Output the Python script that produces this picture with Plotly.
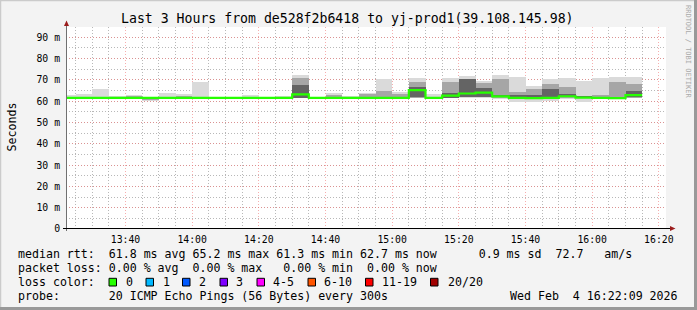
import plotly.graph_objects as go
from datetime import datetime, timedelta

# ---------------- data (ms) ----------------
bin_start = datetime(2026, 2, 4, 13, 20, 0)   # 5-minute bins
view_start = datetime(2026, 2, 4, 13, 22, 9)
view_end = datetime(2026, 2, 4, 16, 22, 9)

smoke_hi = [62.8, 63.2, 65.6, 62.4, 62.9, 61.6, 63.8, 63.3, 69.0, 61.7,
            61.7, 62.7, 61.7, 62.4, 72.5, 61.7, 63.9, 62.6, 64.0, 70.3,
            64.1, 70.7, 63.3, 70.7, 71.6, 69.3, 72.4, 71.2, 67.0, 70.4,
            70.7, 69.3, 70.7, 71.2, 71.2]
smoke_lo = [61.3, 61.3, 61.3, 61.3, 61.3, 60.0, 61.3, 61.3, 61.3, 61.3,
            61.3, 61.3, 61.3, 61.3, 61.4, 61.3, 61.3, 61.3, 61.3, 61.3,
            61.3, 61.4, 61.3, 61.3, 61.6, 61.6, 61.2, 59.8, 59.8, 60.2,
            61.2, 59.4, 61.0, 61.2, 61.3]
mid_hi = [61.5, 61.5, 61.5, 61.5, 62.6, 61.5, 61.5, 62.6, 62.0, 61.5,
          61.5, 61.5, 61.5, 61.5, 70.8, 61.5, 63.0, 61.5, 63.3, 65.0,
          63.2, 68.8, 61.5, 69.2, 70.6, 68.5, 70.4, 64.4, 65.7, 68.0,
          66.5, 62.5, 63.0, 68.8, 68.0]
mid_lo = [61.5, 61.5, 61.5, 61.5, 61.4, 60.8, 61.5, 61.4, 61.4, 61.5,
          61.5, 61.5, 61.5, 61.5, 61.5, 61.5, 61.4, 61.5, 61.4, 61.4,
          61.4, 61.6, 61.5, 61.5, 61.8, 61.8, 61.5, 60.8, 60.8, 60.9,
          61.5, 61.3, 61.3, 61.3, 61.5]
core_hi = [61.5, 61.5, 61.5, 61.5, 61.5, 61.5, 61.5, 61.5, 61.5, 61.5,
           61.5, 61.5, 61.5, 61.5, 67.5, 61.5, 61.5, 61.5, 61.5, 61.5,
           61.5, 66.5, 61.5, 64.0, 70.2, 66.0, 63.0, 62.8, 63.0, 65.7,
           63.5, 62.3, 62.0, 61.5, 65.0]
core_lo = [61.5, 61.5, 61.5, 61.5, 61.5, 61.5, 61.5, 61.5, 61.5, 61.5,
           61.5, 61.5, 61.5, 61.5, 61.6, 61.5, 61.5, 61.5, 61.5, 61.5,
           61.5, 61.8, 61.5, 61.6, 61.9, 62.0, 61.8, 61.3, 61.2, 61.3,
           61.8, 61.5, 61.4, 61.5, 61.8]
median_rtt = [61.5, 61.5, 61.5, 61.5, 61.5, 61.5, 61.5, 61.5, 61.5, 61.5,
              61.5, 61.5, 61.5, 61.5, 63.2, 61.5, 61.5, 61.5, 61.5, 61.5,
              61.5, 65.2, 61.5, 62.6, 63.6, 64.0, 62.2, 61.5, 61.4, 61.5,
              62.3, 61.7, 61.5, 61.4, 62.8]

y_tick_vals = [0, 10, 20, 30, 40, 50, 60, 70, 80, 90]
y_tick_text = ["0", "10 m", "20 m", "30 m", "40 m", "50 m", "60 m", "70 m", "80 m", "90 m"]

loss_labels = ["0", "1", "2", "3", "4-5", "6-10", "11-19", "20/20"]
loss_colors = ["#26ff00", "#00b8ff", "#0059ff", "#7e00ff", "#ff00ff", "#ff5500", "#ff0000", "#a10000"]

title_text = "Last 3 Hours from de528f2b6418 to yj-prod1(39.108.145.98)"
# legend texts as (column, token) pairs in a monospace grid
median_tokens = [(0, "median rtt:"), (13, "61.8"), (18, "ms"), (21, "avg"), (25, "65.2"), (30, "ms"),
                 (33, "max"), (37, "61.3"), (42, "ms"), (45, "min"), (49, "62.7"), (54, "ms"),
                 (57, "now"), (66, "0.9"), (70, "ms"), (73, "sd"), (77, "72.7"), (84, "am/s")]
loss_tokens = [(0, "packet loss:"), (13, "0.00"), (18, "%"), (20, "avg"), (25, "0.00"), (30, "%"),
               (32, "max"), (38, "0.00"), (43, "%"), (45, "min"), (50, "0.00"), (55, "%"), (57, "now")]
probe_tokens = [(0, "probe:"), (13, "20 ICMP Echo Pings (56 Bytes) every 300s")]
date_text = "Wed Feb  4 16:22:09 2026"

# ---------------- geometry helpers ----------------
W, H = 697, 310
L, R, T, B = 66, 31, 27, 81
PW, PH = W - L - R, H - T - B
MONO = "DejaVu Sans Mono"


def px(x):
    return (x - L) / PW


def py(y):
    return (H - B - y) / PH


def nb(s):
    return s.replace(" ", "\u00a0")


def build(tokens):
    s = ""
    for col, tok in tokens:
        s = s.ljust(col) + tok
    return nb(s)


starts = [bin_start + timedelta(minutes=5 * i) for i in range(len(median_rtt))]
centers = [s + timedelta(minutes=2.5) for s in starts]

fig = go.Figure()


def band(lo, hi, color):
    fig.add_trace(go.Bar(
        x=centers, base=lo, y=[h - l for h, l in zip(hi, lo)], width=300000,
        marker=dict(color=color, line=dict(width=0)),
        hoverinfo="skip", showlegend=False))


band(smoke_lo, smoke_hi, "#dadada")
band(mid_lo, mid_hi, "#a6a6a6")
band(core_lo, core_hi, "#646464")

fig.add_trace(go.Scatter(
    x=starts + [starts[-1] + timedelta(minutes=5)],
    y=median_rtt + [median_rtt[-1]],
    mode="lines", line=dict(color="#26ff00", width=2.2, shape="hv"),
    hoverinfo="skip", showlegend=False))

shapes = []
ann = []

# frame
shapes.append(dict(type="line", xref="paper", yref="paper", x0=px(0), x1=px(W), y0=py(0.5), y1=py(0.5),
                   line=dict(color="#cbcbcb", width=1.5), layer="above"))
shapes.append(dict(type="line", xref="paper", yref="paper", x0=px(0.5), x1=px(0.5), y0=py(0), y1=py(H),
                   line=dict(color="#cbcbcb", width=1.5), layer="above"))
shapes.append(dict(type="line", xref="paper", yref="paper", x0=px(0), x1=px(W), y0=py(H - 1.5), y1=py(H - 1.5),
                   line=dict(color="#999999", width=3), layer="above"))
shapes.append(dict(type="line", xref="paper", yref="paper", x0=px(W - 1.5), x1=px(W - 1.5), y0=py(0), y1=py(H),
                   line=dict(color="#999999", width=3), layer="above"))

# axes
shapes.append(dict(type="line", xref="paper", yref="paper", x0=px(66.5), x1=px(66.5), y0=py(231), y1=py(24),
                   line=dict(color="#707070", width=1), layer="above"))
shapes.append(dict(type="line", xref="paper", yref="paper", x0=px(63), x1=px(671), y0=py(228.5), y1=py(228.5),
                   line=dict(color="#000000", width=1), layer="above"))
shapes.append(dict(type="path", xref="paper", yref="paper",
                   path="M %f,%f L %f,%f L %f,%f Z" % (px(64), py(26), px(69), py(26), px(66.5), py(20.5)),
                   fillcolor="#9b1c1c", line=dict(width=0), layer="above"))
shapes.append(dict(type="path", xref="paper", yref="paper",
                   path="M %f,%f L %f,%f L %f,%f Z" % (px(670), py(226), px(670), py(231), px(675.5), py(228.5)),
                   fillcolor="#9b1c1c", line=dict(width=0), layer="above"))

# title / axis title / watermark
ann.append(dict(text=title_text, x=px(347), y=py(19), xref="paper", yref="paper",
                showarrow=False, xanchor="center", yanchor="middle",
                font=dict(family=MONO, size=13.2, color="#000000")))
ann.append(dict(text="Seconds", x=px(11), y=py(127.5), xref="paper", yref="paper",
                showarrow=False, xanchor="center", yanchor="middle", textangle=-90,
                font=dict(family=MONO, size=11.6, color="#000000")))
ann.append(dict(text=nb("RRDTOOL / TOBI OETIKER"), x=px(688), y=py(52), xref="paper", yref="paper",
                showarrow=False, xanchor="center", yanchor="middle", textangle=90,
                font=dict(family=MONO, size=7, color="#aaaaaa")))

# legend rows
rows = [(build(median_tokens), 254.3), (build(loss_tokens), 268.3),
        (nb("loss color:"), 282.3), (build(probe_tokens), 296.3)]
for txt, yy in rows:
    ann.append(dict(text=txt, x=px(16), y=py(yy), xref="paper", yref="paper",
                    showarrow=False, xanchor="left", yanchor="middle",
                    font=dict(family=MONO, size=11.6, color="#000000")))
ann.append(dict(text=nb(date_text), x=px(680), y=py(296.3), xref="paper", yref="paper",
                showarrow=False, xanchor="right", yanchor="middle",
                font=dict(family=MONO, size=11.6, color="#000000")))

sq_x = [109, 146, 182.5, 220, 257, 308, 365.5, 430.5]
lab_x = [124.4, 161, 197, 234, 271, 322, 380, 445.8]
for i, (lab, col) in enumerate(zip(loss_labels, loss_colors)):
    shapes.append(dict(type="rect", xref="paper", yref="paper",
                       x0=px(sq_x[i]), x1=px(sq_x[i] + 7.5), y0=py(278.3), y1=py(286.0),
                       fillcolor=col, line=dict(color="#000000", width=1), layer="above"))
    ann.append(dict(text=lab, x=px(lab_x[i]), y=py(282.3), xref="paper", yref="paper",
                    showarrow=False, xanchor="left", yanchor="middle",
                    font=dict(family=MONO, size=11.6, color="#000000")))

fig.update_layout(
    width=W, height=H, margin=dict(l=L, r=R, t=T, b=B, pad=0),
    paper_bgcolor="#f3f3f3", plot_bgcolor="#ffffff",
    barmode="overlay", bargap=0, showlegend=False,
    shapes=shapes, annotations=ann,
    xaxis=dict(type="date", range=[view_start, view_end],
               tick0="2026-02-04 13:40:00", dtick=1200000, tickformat="%H:%M",
               showgrid=True, gridcolor="rgba(240,120,120,0.6)", griddash="1px,2px", gridwidth=1,
               minor=dict(dtick=300000, tick0="2026-02-04 13:40:00", showgrid=True,
                          gridcolor="rgba(160,160,160,0.75)", griddash="1px,2px", gridwidth=1),
               ticks="outside", ticklen=1, tickcolor="rgba(0,0,0,0)",
               tickfont=dict(family=MONO, size=9.8, color="#000000"),
               zeroline=False, showline=False, fixedrange=True),
    yaxis=dict(range=[0, 94.8], tickvals=y_tick_vals, ticktext=y_tick_text,
               showgrid=True, gridcolor="rgba(240,120,120,0.6)", griddash="1px,2px", gridwidth=1,
               minor=dict(dtick=5, tick0=0, showgrid=True,
                          gridcolor="rgba(160,160,160,0.75)", griddash="1px,2px", gridwidth=1),
               ticks="outside", ticklen=3, tickcolor="rgba(0,0,0,0)",
               tickfont=dict(family=MONO, size=9.8, color="#000000"),
               zeroline=False, showline=False, fixedrange=True),
)

fig.write_html("out.html")
